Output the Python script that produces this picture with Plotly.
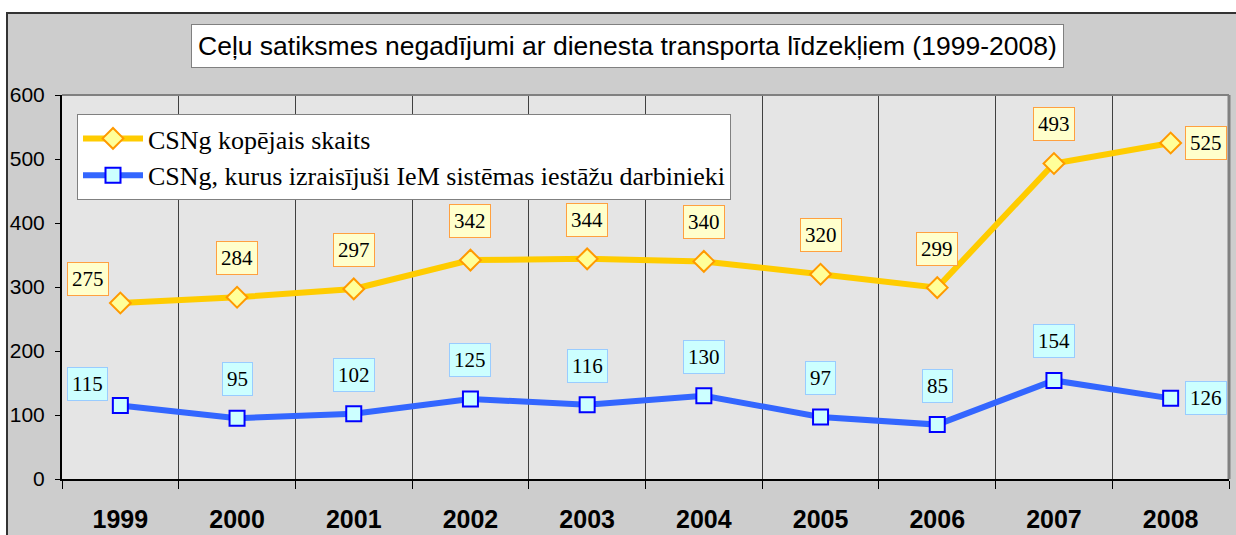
import plotly.graph_objects as go

years = ["1999", "2000", "2001", "2002", "2003", "2004", "2005", "2006", "2007", "2008"]
total = [275, 284, 297, 342, 344, 340, 320, 299, 493, 525]
iem = [115, 95, 102, 125, 116, 130, 97, 85, 154, 126]
name_total = "CSNg kopējais skaits"
name_iem = "CSNg, kurus izraisījuši IeM sistēmas iestāžu darbinieki"
title_text = "Ceļu satiksmes negadījumi ar dienesta transporta līdzekļiem (1999-2008)"
y_ticks = [0, 100, 200, 300, 400, 500, 600]

W, H = 1236, 535
L, R, T, B = 62, 7, 95, 56
pw, ph = W - L - R, H - T - B


def px(xp):
    return (xp - L) / pw


def py(yp):
    return (H - B - yp) / ph


fig = go.Figure()
fig.add_trace(go.Scatter(
    x=years, y=total, name=name_total, mode="lines+markers",
    line=dict(color="#ffcc00", width=6),
    marker=dict(symbol="diamond", size=16, color="#ffff99",
                line=dict(color="#ff9900", width=2)),
))
fig.add_trace(go.Scatter(
    x=years, y=iem, name=name_iem, mode="lines+markers",
    line=dict(color="#3366ff", width=6),
    marker=dict(symbol="square", size=15, color="#ccffff",
                line=dict(color="#0000ff", width=2)),
))

annotations = []
n = len(years)
for i, v in enumerate(total):
    if i == 0:
        xs, ys = -32, 24
    elif i == n - 1:
        xs, ys = 35, 0
    else:
        xs, ys = 0, 39
    annotations.append(dict(
        x=i, y=v, text=str(v), showarrow=False, xshift=xs, yshift=ys,
        font=dict(family="Liberation Serif", size=21, color="black"),
        bgcolor="#ffffcc", bordercolor="#ffa040", borderwidth=1, borderpad=4,
    ))
for i, v in enumerate(iem):
    if i == 0:
        xs, ys = -33, 21
    elif i == n - 1:
        xs, ys = 35, 0
    else:
        xs, ys = 0, 39
    annotations.append(dict(
        x=i, y=v, text=str(v), showarrow=False, xshift=xs, yshift=ys,
        font=dict(family="Liberation Serif", size=21, color="black"),
        bgcolor="#ccffff", bordercolor="#99ccff", borderwidth=1, borderpad=4,
    ))

annotations.append(dict(
    xref="paper", yref="paper", x=px(627), y=py(46), xanchor="center", yanchor="middle",
    text=title_text,
    showarrow=False, font=dict(family="Liberation Sans", size=26.5, color="black"),
    bgcolor="white", bordercolor="#808080", borderwidth=1, borderpad=6,
))

shapes = [
    dict(type="rect", xref="paper", yref="paper", x0=px(-5), x1=px(W + 5),
         y0=py(13), y1=py(-5), fillcolor="white", line=dict(width=0), layer="below"),
    dict(type="rect", xref="paper", yref="paper", x0=px(-5), x1=px(6),
         y0=py(H + 5), y1=py(-5), fillcolor="white", line=dict(width=0), layer="below"),
    dict(type="line", xref="paper", yref="paper", x0=px(6), x1=px(W + 5),
         y0=py(13), y1=py(13), line=dict(color="#333333", width=2)),
    dict(type="line", xref="paper", yref="paper", x0=px(7), x1=px(7),
         y0=py(13), y1=py(H + 5), line=dict(color="#333333", width=2)),
    dict(type="line", xref="paper", yref="paper", x0=0, x1=1, y0=1, y1=1,
         line=dict(color="#808080", width=2)),
    dict(type="line", xref="paper", yref="paper", x0=1, x1=1, y0=0, y1=1,
         line=dict(color="#808080", width=3)),
]

fig.update_layout(
    width=W, height=H,
    margin=dict(l=L, r=R, t=T, b=B, autoexpand=False),
    paper_bgcolor="#cdcdcd",
    plot_bgcolor="#e5e5e5",
    showlegend=True,
    legend=dict(
        x=px(77), y=py(114), xanchor="left", yanchor="top",
        bgcolor="white", bordercolor="#808080", borderwidth=1,
        font=dict(family="Liberation Serif", size=26, color="black"),
        itemwidth=60, tracegroupgap=0,
    ),
    annotations=annotations,
    shapes=shapes,
    xaxis=dict(
        type="category", range=[-0.5, n - 0.5], tickson="boundaries",
        automargin=False,
        showgrid=True, gridcolor="#404040", gridwidth=1,
        showline=True, linecolor="black", linewidth=2,
        ticks="outside", ticklen=8, tickcolor="black",
        tickfont=dict(family="Liberation Sans", size=25, color="black", weight="bold"),
        ticklabelstandoff=17,
    ),
    yaxis=dict(
        range=[0, 600], tickvals=y_ticks, showgrid=False, zeroline=False,
        automargin=False,
        showline=True, linecolor="black", linewidth=2,
        ticks="outside", ticklen=5, tickcolor="black",
        tickfont=dict(family="Liberation Sans", size=21, color="black"),
        ticklabelstandoff=6,
    ),
)

fig.write_html("out.html", config={"displayModeBar": False},
               post_script="document.body.style.margin='0';")
